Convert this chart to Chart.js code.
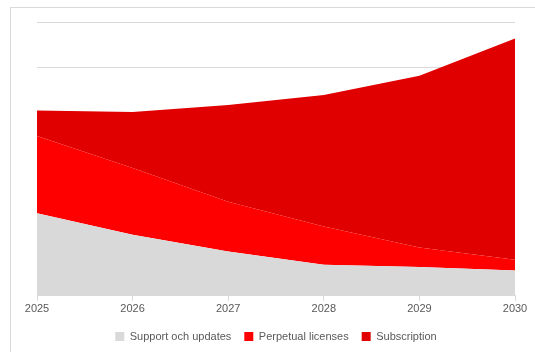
<!DOCTYPE html>
<html>
<head>
<meta charset="utf-8">
<script src="https://cdn.jsdelivr.net/npm/chart.js@4"></script>
<style>
  html, body { margin: 0; padding: 0; background: #fff; overflow: hidden; }
  #frame { position: absolute; left: 10px; top: 7px; width: 600px; height: 400px; border: 1px solid #d9d9d9; box-sizing: border-box; }
  #wrap { position: absolute; left: 0; top: 0; width: 535px; height: 352px; }
</style>
</head>
<body>
<div id="frame"></div>
<div id="wrap"><canvas id="chart"></canvas></div>
<script>
// years on the x axis
const years = ['2025', '2026', '2027', '2028', '2029', '2030'];

// stacked series
const support = [90.5, 67, 48.5, 34, 31.5, 27.7];
const perpetual = [84.5, 73, 54.5, 42, 21.5, 11.7];
const subscription = [28, 61.5, 106, 144, 188, 242.6];

const cGray = '#d9d9d9';
const cRed = '#ff0000';
const cDark = '#e00000';
const txt = '#595959';

Chart.defaults.font.family = '"Liberation Sans", Arial, sans-serif';
Chart.defaults.font.size = 11;
Chart.defaults.color = txt;

new Chart(document.getElementById('chart'), {
  type: 'line',
  data: {
    labels: years,
    datasets: [
      { label: 'Support och updates', data: support, backgroundColor: cGray, borderWidth: 0, fill: 'origin', pointRadius: 0 },
      { label: 'Perpetual licenses', data: perpetual, backgroundColor: cRed, borderWidth: 0, fill: '-1', pointRadius: 0 },
      { label: 'Subscription', data: subscription, backgroundColor: cDark, borderWidth: 0, fill: '-1', pointRadius: 0 }
    ]
  },
  options: {
    responsive: true,
    maintainAspectRatio: false,
    animation: false,
    layout: { padding: { left: 37, right: 20, top: 22, bottom: 0 } },
    plugins: {
      tooltip: { enabled: false },
      legend: {
        position: 'bottom',
        labels: { boxWidth: 9, boxHeight: 9, padding: 13, color: txt, font: { size: 11 } }
      }
    },
    scales: {
      x: {
        offset: false,
        grid: { drawOnChartArea: false, drawTicks: true, tickLength: 5, color: cGray },
        border: { color: cGray },
        ticks: { color: txt, padding: 2, maxRotation: 0 }
      },
      y: {
        stacked: true,
        min: 0,
        max: 300,
        ticks: { display: false, stepSize: 50 },
        grid: { color: cGray, drawTicks: false },
        border: { display: false }
      }
    }
  }
});
</script>
</body>
</html>
